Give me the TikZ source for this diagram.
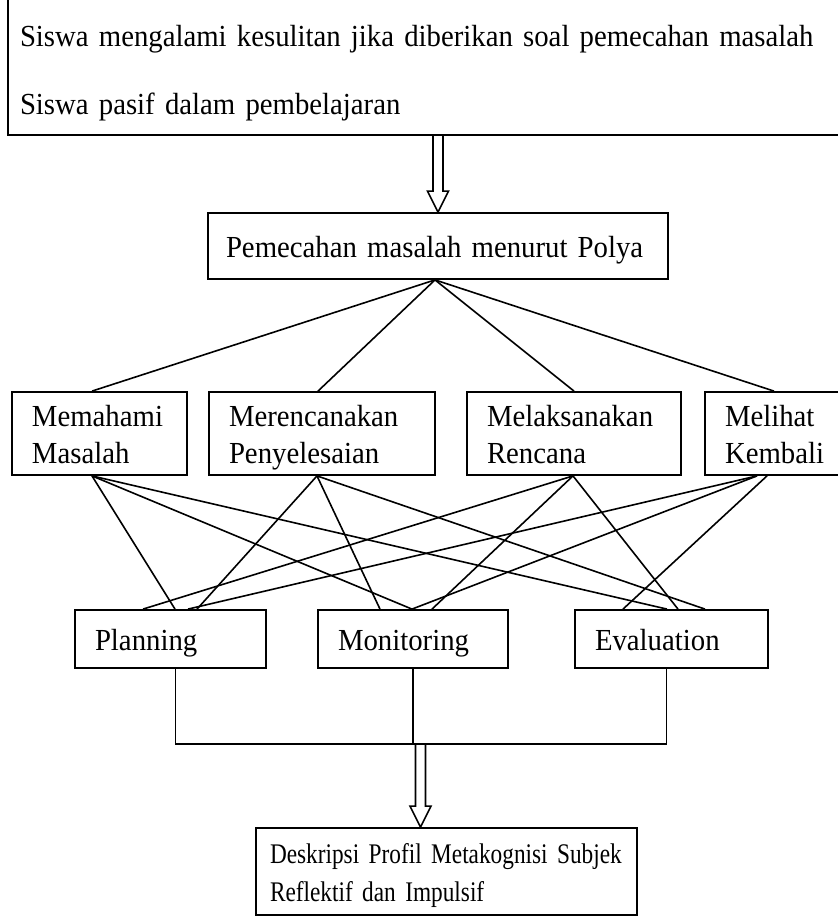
\documentclass[tikz,border=0pt]{standalone}
\usepackage{fontspec}
\setmainfont{Liberation Serif}[FakeStretch=0.94]
\newfontfamily\sempit{Liberation Serif}[FakeStretch=0.82]
\usetikzlibrary{calc}

\tikzset{
  box/.style={draw, line width=0.9pt, align=left, inner xsep=10pt, inner ysep=0pt,
    font=\fontsize{15.3}{18.5}\selectfont,
    execute at begin node={\rule{0pt}{17pt}}, execute at end node=\strut},
  link/.style={line width=0.8pt},
}
% hollow block arrow from #1 down to #2
\newcommand{\panah}[2]{%
  \draw[link] ($(#1)+(-5,0)$) -- ($(#2)+(-5,-21)$) -- ++(-5.5,0) -- (#2)
    -- ++(10.5,-21) -- ++(-5.5,0) -- ($(#1)+(5,0)$);}

\begin{document}
\begin{tikzpicture}[x=0.5pt,y=-0.5pt]
\useasboundingbox (0,0) rectangle (837,922);

% latar belakang
\node[box, text width=409pt, inner xsep=6pt, minimum height=60pt,
  font=\fontsize{15.3}{34}\selectfont, execute at begin node=\strut] (masalah) at (429,67)
  {Siswa mengalami kesulitan jika diberikan soal pemecahan masalah\\Siswa pasif dalam pembelajaran};
\node[box, text width=212pt, inner xsep=9pt, minimum height=33pt] (polya) at (438,246) {Pemecahan masalah menurut Polya};

% langkah Polya
\node[box, text width=67.5pt, minimum height=41.5pt] (memahami) at (99.5,433.5) {Memahami\\Masalah};
\node[box, text width=93pt, minimum height=41.5pt] (merencanakan) at (322,433.5) {Merencanakan\\Penyelesaian};
\node[box, text width=87pt, minimum height=41.5pt] (melaksanakan) at (574,433.5) {Melaksanakan\\Rencana};
\node[box, text width=52pt, minimum height=41.5pt] (melihat) at (777,433.5) {Melihat\\Kembali};

% metakognisi
\node[box, text width=75.5pt, minimum height=29pt] (planning) at (170.5,639) {Planning};
\node[box, text width=75pt, minimum height=29pt] (monitoring) at (413,639) {Monitoring};
\node[box, text width=76.5pt, minimum height=29pt] (evaluation) at (671.5,639) {Evaluation};

\node[box, text width=176.5pt, inner xsep=7pt, minimum height=43.5pt,
  font=\sempit\fontsize{14.2}{19}\selectfont, execute at begin node=\strut] (profil) at (446.5,871.5)
  {Deskripsi Profil Metakognisi Subjek\\Reflektif dan Impulsif};

\coordinate (atas) at (masalah.south -| polya.north);
\coordinate (bus) at (420.5,744);
\coordinate (masuk) at (bus |- profil.north);

\panah{atas}{polya.north}

\draw[link] ([xshift=-1.5pt]polya.south) -- ([xshift=-3.75pt]memahami.north);
\draw[link] ([xshift=-1.5pt]polya.south) -- ([xshift=-2pt]merencanakan.north);
\draw[link] ([xshift=-1.5pt]polya.south) -- (melaksanakan.north);
\draw[link] ([xshift=-1.5pt]polya.south) -- ([xshift=-1.5pt]melihat.north);

\draw[link] ([xshift=-3.75pt]memahami.south) -- ([xshift=2.25pt]planning.north);
\draw[link] ([xshift=-3.75pt]memahami.south) -- ([xshift=-0.5pt]monitoring.north);
\draw[link] ([xshift=-3.75pt]memahami.south) -- ([xshift=-2.25pt]evaluation.north);
\draw[link] ([xshift=-2.5pt]merencanakan.south) -- ([xshift=13.25pt]planning.north);
\draw[link] ([xshift=-2.5pt]merencanakan.south) -- ([xshift=-16.5pt]monitoring.north);
\draw[link] ([xshift=-2.5pt]merencanakan.south) -- ([xshift=16.75pt]evaluation.north);
\draw[link] ([xshift=-0.5pt]melaksanakan.south) -- ([xshift=-13.75pt]planning.north);
\draw[link] ([xshift=-0.5pt]melaksanakan.south) -- ([xshift=9.5pt]monitoring.north);
\draw[link] ([xshift=-0.5pt]melaksanakan.south) -- ([xshift=3.25pt]evaluation.north);
\draw[link] ([xshift=-10pt]melihat.south) -- ([xshift=8.75pt]planning.north);
\draw[link] ([xshift=-10pt]melihat.south) -- ([xshift=-0.5pt]monitoring.north);
\draw[link] ([xshift=-5pt]melihat.south) -- ([xshift=-24.25pt]evaluation.north);

\draw[link] ([xshift=2.5pt]planning.south) |- (bus) -| ([xshift=-2.5pt]evaluation.south);
\draw[link] (monitoring.south) -- (monitoring.south |- bus);

\panah{bus}{masuk}
\end{tikzpicture}
\end{document}
